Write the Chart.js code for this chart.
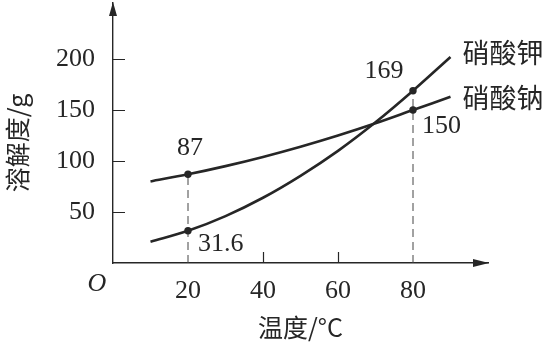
<!DOCTYPE html>
<html>
<head>
<meta charset="utf-8">
<script src="https://cdn.jsdelivr.net/npm/chart.js@4/dist/chart.umd.min.js"></script>
<style>
  html, body { margin: 0; padding: 0; background: #fff; }
  #wrap { width: 554px; height: 343px; }
</style>
</head>
<body>
<div id="wrap"><canvas id="c" width="554" height="343"></canvas></div>
<script>
// temperature (°C) and solubility (g)
const temps = [10, 20, 30, 40, 50, 60, 70, 80, 90];
const kno3 = [20.9, 31.6, 46, 64, 85.5, 110, 138, 169, 202];
const nano3 = [80, 87, 95, 104, 114, 125, 137, 150, 163];
const xTicks = [20, 40, 60, 80];
const yTicks = [50, 100, 150, 200];
const seriesNames = ["硝酸钾", "硝酸钠"];
const marked = [20, 80]; // temperatures with a dot + dashed guide

const ink = "#262626";
const serif = "'Liberation Serif', 'DejaVu Serif', serif";
const cjk = "'Noto Sans CJK SC', 'Noto Sans', sans-serif";

const toPts = (ys) => temps.map((t, i) => ({ x: t, y: ys[i] }));
const dotRadius = temps.map((t) => (marked.includes(t) ? 3.7 : 0));

const guideAt = (t) => {
  const i = temps.indexOf(t);
  const top = Math.max(kno3[i], nano3[i]);
  return [{ x: t, y: 0 }, { x: t, y: top }];
};

// tick marks drawn inward, arrows, "O", y title and curve labels
const decor = {
  id: "decor",
  afterDatasetsDraw(chart) {
    const { ctx, chartArea: a, scales: { x, y } } = chart;
    ctx.save();
    ctx.strokeStyle = ink;
    ctx.fillStyle = ink;
    ctx.lineWidth = 1.2;

    ctx.beginPath();
    yTicks.forEach((v) => {
      const py = Math.round(y.getPixelForValue(v)) + 0.5;
      ctx.moveTo(a.left, py);
      ctx.lineTo(a.left + 12, py);
    });
    xTicks.filter((v) => !marked.includes(v)).forEach((v) => {
      const px = Math.round(x.getPixelForValue(v)) + 0.5;
      ctx.moveTo(px, a.bottom);
      ctx.lineTo(px, a.bottom - 11);
    });
    ctx.stroke();

    // arrow heads
    ctx.beginPath();
    ctx.moveTo(a.left, a.top - 1);
    ctx.lineTo(a.left - 4, a.top + 13);
    ctx.lineTo(a.left + 4, a.top + 13);
    ctx.closePath();
    ctx.moveTo(a.right + 1, a.bottom);
    ctx.lineTo(a.right - 15, a.bottom - 4);
    ctx.lineTo(a.right - 15, a.bottom + 4);
    ctx.closePath();
    ctx.fill();

    ctx.font = "italic 26px " + serif;
    ctx.textAlign = "center";
    ctx.textBaseline = "middle";
    ctx.fillText("O", a.left - 16, a.bottom + 21);

    // y axis title
    ctx.save();
    ctx.translate(17, 143);
    ctx.rotate(-Math.PI / 2);
    ctx.font = "25px " + cjk;
    ctx.fillText("溶解度/g", 0, 0);
    ctx.restore();

    // value labels
    ctx.font = "26px " + serif;
    const px = (t) => x.getPixelForValue(t);
    const py = (v) => y.getPixelForValue(v);
    ctx.textAlign = "center";
    ctx.fillText(String(nano3[1]), px(20) + 2, py(nano3[1]) - 26);
    ctx.fillText(String(kno3[7]), px(80) - 29, py(kno3[7]) - 20);
    ctx.textAlign = "left";
    ctx.fillText(String(kno3[1]), px(20) + 10, py(kno3[1]) + 13);
    ctx.fillText(String(nano3[7]), px(80) + 9, py(nano3[7]) + 16);

    // series names at line ends
    ctx.font = "27px " + cjk;
    ctx.fillText(seriesNames[0], px(90) + 12, py(kno3[8]) - 4);
    ctx.fillText(seriesNames[1], px(90) + 12, py(nano3[8]) + 1);
    ctx.restore();
  },
};

new Chart(document.getElementById("c"), {
  type: "line",
  data: {
    datasets: [
      {
        label: seriesNames[0],
        data: toPts(kno3),
        borderColor: ink,
        backgroundColor: ink,
        borderWidth: 2.6,
        cubicInterpolationMode: "monotone",
        pointRadius: dotRadius,
        pointBorderWidth: 0,
      },
      {
        label: seriesNames[1],
        data: toPts(nano3),
        borderColor: ink,
        backgroundColor: ink,
        borderWidth: 2.6,
        cubicInterpolationMode: "monotone",
        pointRadius: dotRadius,
        pointBorderWidth: 0,
      },
      ...marked.map((t) => ({
        data: guideAt(t),
        borderColor: "#444",
        borderWidth: 1,
        borderDash: [8, 5],
        pointRadius: 0,
      })),
    ],
  },
  options: {
    responsive: false,
    animation: false,
    events: [],
    layout: { padding: { top: 3, right: 66, bottom: 0, left: 0 } },
    plugins: { legend: { display: false }, tooltip: { enabled: false } },
    scales: {
      x: {
        type: "linear",
        min: 0,
        max: 100,
        afterFit: (s) => { s.height = 80; s.paddingLeft = 0; s.paddingRight = 0; },
        afterBuildTicks: (s) => { s.ticks = xTicks.map((v) => ({ value: v })); },
        grid: { display: false, drawTicks: false },
        border: { display: true, color: ink, width: 1.4 },
        ticks: { color: ink, padding: 13, font: { family: serif, size: 26 } },
        title: {
          display: true,
          text: "温度/°C",
          color: ink,
          font: { family: cjk, size: 25 },
          padding: { top: 0, bottom: 1 },
        },
      },
      y: {
        type: "linear",
        min: 0,
        max: 255,
        afterFit: (s) => { s.width = 113; s.paddingTop = 0; s.paddingBottom = 0; },
        afterBuildTicks: (s) => { s.ticks = yTicks.map((v) => ({ value: v })); },
        grid: { display: false, drawTicks: false },
        border: { display: true, color: ink, width: 1.4 },
        ticks: { color: ink, padding: 18, font: { family: serif, size: 26 } },
      },
    },
  },
  plugins: [decor],
});
</script>
</body>
</html>
